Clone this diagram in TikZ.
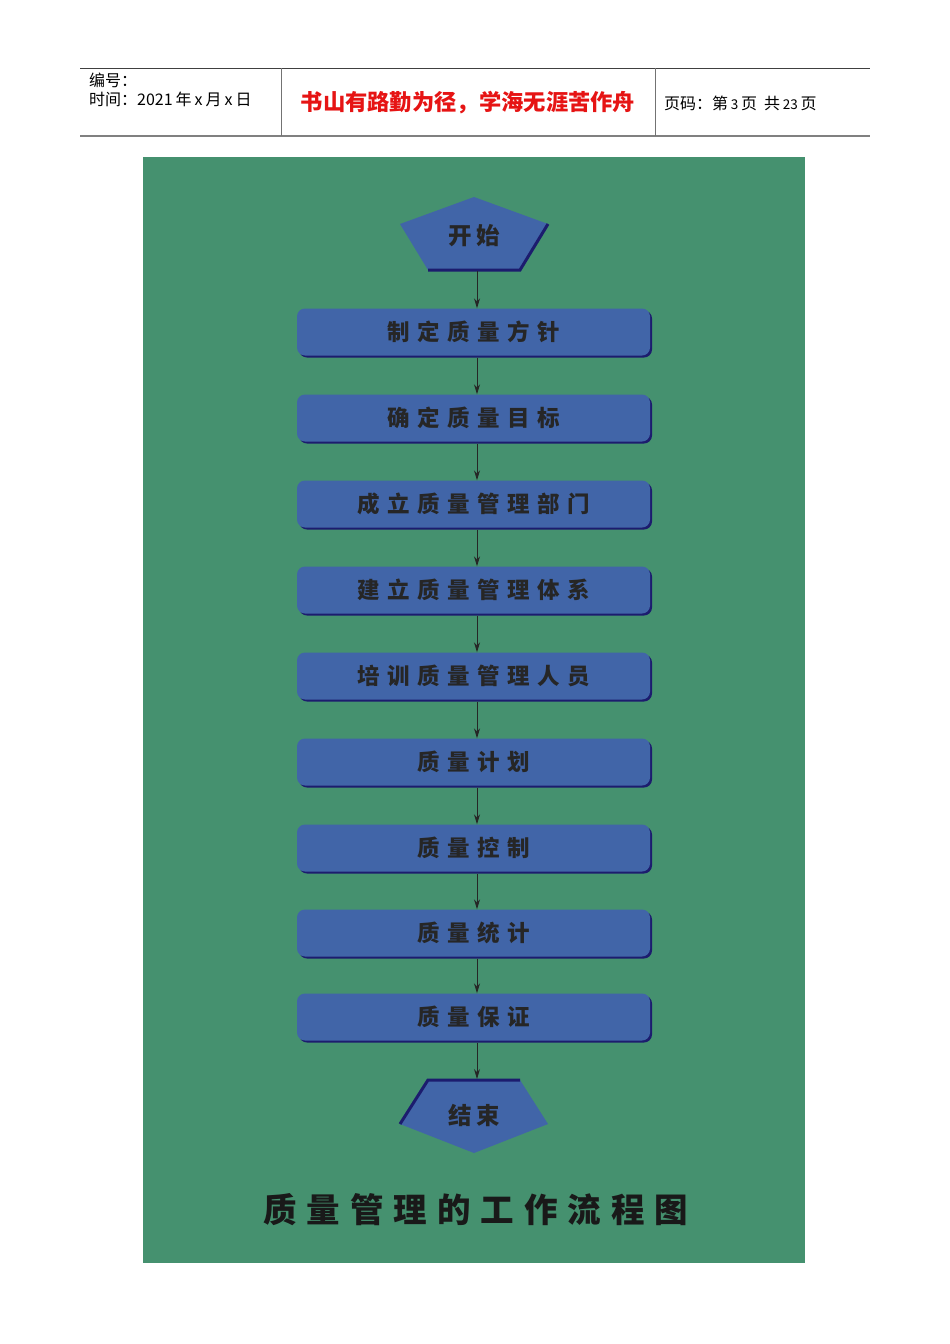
\documentclass[tikz,border=0pt]{standalone}
\usepackage{fontspec}
\newfontfamily\cjk{Noto Sans CJK SC}
\usetikzlibrary{arrows.meta}
\definecolor{bggreen}{RGB}{69,145,111}
\definecolor{boxblue}{RGB}{65,101,168}
\definecolor{navy}{RGB}{28,28,110}
\definecolor{redtxt}{RGB}{230,20,20}
\newcommand\gp{\hspace{7.5pt}}
\newcommand\gq{\hspace{10pt}}
\tikzset{
  stepbox/.style={rounded corners=8pt, fill=boxblue, minimum width=353pt, minimum height=47pt,
    inner sep=0pt, font=\cjk\bfseries\fontsize{22.5}{25}\selectfont, text=black!85,
    preaction={fill=navy, transform canvas={xshift=2pt,yshift=-2pt}}},
  arr/.style={draw=black!85, line width=1pt, -{Stealth[length=10pt,width=6pt]}},
  shadowline/.style={draw=navy, line width=3pt},
  hline/.style={draw=black!75, line width=0.8pt},
  vline/.style={draw=black!55, line width=0.8pt},
  hdr/.style={font=\cjk\fontsize{16}{18}\selectfont, anchor=west, inner sep=0pt},
  pentext/.style={font=\cjk\bfseries\fontsize{23.5}{26}\selectfont, text=black!85, inner sep=0pt},
}
\begin{document}
\begin{tikzpicture}[x=1pt,y=-1pt]
\useasboundingbox (0,0) rectangle (950,1344);
\fill[white] (0,0) rectangle (950,1344);
% header
\draw[hline] (80,68) -- (870,68);
\draw[draw=black!50, line width=1.6pt] (80,136) -- (870,136);
\draw[vline] (281,68) -- (281,136);
\draw[vline] (655,68) -- (655,136);
\node[hdr] (hnum) at (89,80) {编号：};
\node[hdr] (htime) at (89,99) {时间：2021\hspace{3pt}年\hspace{3pt}x\hspace{3pt}月\hspace{3pt}x\hspace{3pt}日};
\node[font=\cjk\bfseries\fontsize{22.3}{25}\selectfont, text=redtxt, inner sep=0pt] (motto) at (468,103) {书山有路勤为径，学海无涯苦作舟};
\node[hdr] (hpage) at (664,103) {页码：第\,{\fontsize{13.5}{15}\selectfont 3}\,页\ \ 共\,{\fontsize{13.5}{15}\selectfont 23}\,页};
% background
\fill[bggreen] (143,157) rectangle (805,1263);
% start pentagon
\fill[boxblue] (400,224) -- (474,197) -- (548,224) -- (520,270) -- (428,270) -- cycle;
\draw[shadowline] (548,224) -- (520,270) -- (428,270);
\node[pentext] (start) at (474,236) {开\hspace{5pt}始};
\coordinate (sbot) at (477,271);
% boxes
\node[stepbox] (b1) at (473.5,332) {制\gp 定\gp 质\gp 量\gp 方\gp 针};
\node[stepbox] (b2) at (473.5,418) {确\gp 定\gp 质\gp 量\gp 目\gp 标};
\node[stepbox] (b3) at (473.5,504) {成\gp 立\gp 质\gp 量\gp 管\gp 理\gp 部\gp 门};
\node[stepbox] (b4) at (473.5,590) {建\gp 立\gp 质\gp 量\gp 管\gp 理\gp 体\gp 系};
\node[stepbox] (b5) at (473.5,676) {培\gp 训\gp 质\gp 量\gp 管\gp 理\gp 人\gp 员};
\node[stepbox] (b6) at (473.5,762) {质\gp 量\gp 计\gp 划};
\node[stepbox] (b7) at (473.5,848) {质\gp 量\gp 控\gp 制};
\node[stepbox] (b8) at (473.5,933) {质\gp 量\gp 统\gp 计};
\node[stepbox] (b9) at (473.5,1017) {质\gp 量\gp 保\gp 证};
% end pentagon
\fill[boxblue] (428,1080) -- (520,1080) -- (548,1124) -- (474,1153) -- (400,1124) -- cycle;
\draw[shadowline] (400,1124) -- (428,1080) -- (520,1080);
\node[pentext] (end) at (474,1115) {结\hspace{5pt}束};
\coordinate (etop) at (477,1079);
% arrows
\draw[arr] (sbot) -- ([xshift=3.5pt]b1.north);
\foreach \a/\b in {b1/b2,b2/b3,b3/b4,b4/b5,b5/b6,b6/b7,b7/b8,b8/b9}
  \draw[arr] ([xshift=3.5pt,yshift=-2pt]\a.south) -- ([xshift=3.5pt]\b.north);
\draw[arr] ([xshift=3.5pt,yshift=-2pt]b9.south) -- (etop);
% title
\node[font=\cjk\bfseries\fontsize{33.5}{37}\selectfont, text=black!90, inner sep=0pt] (title) at (476,1210)
  {质\gq 量\gq 管\gq 理\gq 的\gq 工\gq 作\gq 流\gq 程\gq 图};
\end{tikzpicture}
\end{document}
